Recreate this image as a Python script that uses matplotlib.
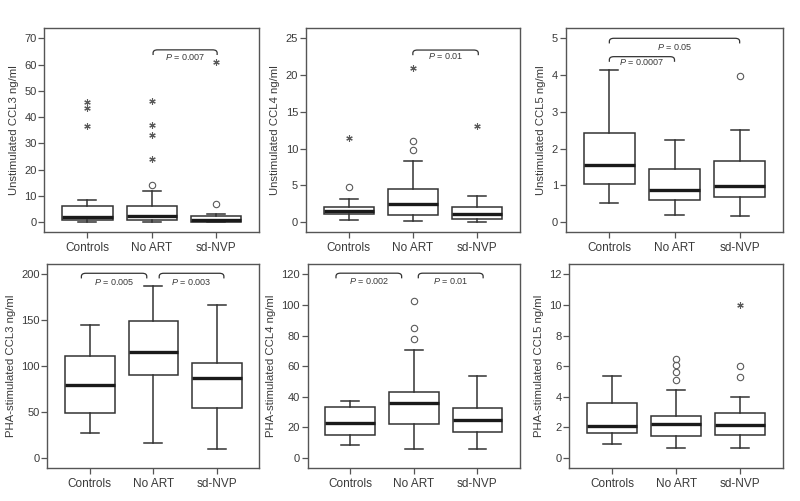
import matplotlib
matplotlib.use('Agg')
import matplotlib.pyplot as plt
import numpy as np
from matplotlib.path import Path
from matplotlib.patches import PathPatch

plt.rcParams['font.family'] = ['Liberation Sans', 'DejaVu Sans']
plt.rcParams['mathtext.fontset'] = 'custom'
plt.rcParams['mathtext.it'] = 'Liberation Sans:italic'
plt.rcParams['mathtext.rm'] = 'Liberation Sans'

groups = ['Controls', 'No ART', 'sd-NVP']

# ---- Panel 1: Unstimulated CCL3 ----
p1_q1 = [0.9, 0.9, 0.1]
p1_med = [1.9, 2.2, 0.8]
p1_q3 = [6.0, 6.1, 2.2]
p1_lo = [0.0, 0.0, 0.0]
p1_hi = [8.2, 12.0, 3.2]
p1_circles = [[], [14.2], [6.7]]
p1_stars = [[45.9, 43.4, 36.6], [46.2, 36.9, 33.0, 24.1], [61.1]]
p1_ticks = [0, 10, 20, 30, 40, 50, 60, 70]
p1_label = 'Unstimulated CCL3 ng/ml'
p1_pvals = ['0.007']

# ---- Panel 2: Unstimulated CCL4 ----
p2_q1 = [1.09, 0.95, 0.41]
p2_med = [1.54, 2.49, 1.13]
p2_q3 = [2.04, 4.48, 2.04]
p2_lo = [0.23, 0.18, 0.05]
p2_hi = [3.17, 8.24, 3.49]
p2_circles = [[4.76], [10.96, 9.74], []]
p2_stars = [[11.4], [20.9], [13.1]]
p2_ticks = [0, 5, 10, 15, 20, 25]
p2_label = 'Unstimulated CCL4 ng/ml'
p2_pvals = ['0.01']

# ---- Panel 3: Unstimulated CCL5 ----
p3_q1 = [1.04, 0.60, 0.69]
p3_med = [1.55, 0.87, 0.99]
p3_q3 = [2.42, 1.44, 1.66]
p3_lo = [0.53, 0.20, 0.15]
p3_hi = [4.14, 2.23, 2.51]
p3_circles = [[], [], [3.97]]
p3_stars = [[], [], []]
p3_ticks = [0, 1, 2, 3, 4, 5]
p3_label = 'Unstimulated CCL5 ng/ml'
p3_pvals = ['0.0007', '0.05']

# ---- Panel 4: PHA-stimulated CCL3 ----
p4_q1 = [49.1, 90.2, 54.2]
p4_med = [79.3, 115.3, 87.3]
p4_q3 = [110.9, 148.7, 103.6]
p4_lo = [27.3, 16.7, 10.2]
p4_hi = [144.4, 187.6, 166.2]
p4_circles = [[], [], []]
p4_stars = [[], [], []]
p4_ticks = [0, 50, 100, 150, 200]
p4_label = 'PHA-stimulated CCL3 ng/ml'
p4_pvals = ['0.005', '0.003']

# ---- Panel 5: PHA-stimulated CCL4 ----
p5_q1 = [15.1, 22.3, 17.0]
p5_med = [22.9, 35.8, 24.9]
p5_q3 = [33.4, 42.8, 32.7]
p5_lo = [8.3, 5.9, 6.1]
p5_hi = [37.3, 70.7, 53.7]
p5_circles = [[], [102.5, 84.9, 77.5], []]
p5_stars = [[], [], []]
p5_ticks = [0, 20, 40, 60, 80, 100, 120]
p5_label = 'PHA-stimulated CCL4 ng/ml'
p5_pvals = ['0.002', '0.01']

# ---- Panel 6: PHA-stimulated CCL5 ----
p6_q1 = [1.61, 1.44, 1.53]
p6_med = [2.09, 2.25, 2.18]
p6_q3 = [3.62, 2.75, 2.95]
p6_lo = [0.94, 0.63, 0.65]
p6_hi = [5.37, 4.43, 3.99]
p6_circles = [[], [6.45, 6.05, 5.6, 5.1], [6.02, 5.28]]
p6_stars = [[], [], [10.0]]
p6_ticks = [0, 2, 4, 6, 8, 10, 12]
p6_label = 'PHA-stimulated CCL5 ng/ml'
p6_pvals = []

panels = [
    (p1_q1, p1_med, p1_q3, p1_lo, p1_hi, p1_circles, p1_stars, p1_ticks, p1_label, p1_pvals),
    (p2_q1, p2_med, p2_q3, p2_lo, p2_hi, p2_circles, p2_stars, p2_ticks, p2_label, p2_pvals),
    (p3_q1, p3_med, p3_q3, p3_lo, p3_hi, p3_circles, p3_stars, p3_ticks, p3_label, p3_pvals),
    (p4_q1, p4_med, p4_q3, p4_lo, p4_hi, p4_circles, p4_stars, p4_ticks, p4_label, p4_pvals),
    (p5_q1, p5_med, p5_q3, p5_lo, p5_hi, p5_circles, p5_stars, p5_ticks, p5_label, p5_pvals),
    (p6_q1, p6_med, p6_q3, p6_lo, p6_hi, p6_circles, p6_stars, p6_ticks, p6_label, p6_pvals),
]

# axes rectangles in pixels (left, right, top, bottom) on an 800x501 canvas
W, H = 800, 501
rects_px = [
    (44.3, 259.3, 28.0, 232.3),
    (305.7, 520.0, 28.0, 232.3),
    (565.7, 783.3, 28.0, 232.3),
    (47.3, 259.3, 264.0, 468.3),
    (307.7, 520.0, 264.0, 468.3),
    (569.3, 783.3, 264.0, 468.3),
]

# bracket layout: (x1, x2, y as fraction of top tick, text y fraction)
brackets = [
    [(2.02, 3.015, 0.937, 0.897)],
    [(2.0, 3.02, 0.936, 0.904)],
    [(1.0, 2.0, 0.900, 0.870), (1.0, 3.0, 1.0, 0.954)],
    [(0.867, 1.897, 1.0055, 0.96), (2.093, 3.112, 1.0055, 0.96)],
    [(0.775, 1.808, 1.006, 0.963), (2.07, 3.09, 1.006, 0.963)],
    [],
]

TXT = '#3a3a3a'
EDGE = '#333333'
SPINE = '#555555'

fig = plt.figure(figsize=(8.0, 5.01), dpi=100)
pos = np.array([1, 2, 3])

def draw_bracket(ax, x1, x2, y, h, r_x, lw=0.9):
    r = h * 0.6
    verts = [(x1, y - h), (x1, y - r), (x1, y), (x1 + r_x, y),
             (x2 - r_x, y), (x2, y), (x2, y - r), (x2, y - h)]
    codes = [Path.MOVETO, Path.LINETO, Path.CURVE3, Path.CURVE3,
             Path.LINETO, Path.CURVE3, Path.CURVE3, Path.LINETO]
    ax.add_patch(PathPatch(Path(verts, codes), fill=False, edgecolor=EDGE, lw=lw,
                           clip_on=False))

for i, (q1, med, q3, lo, hi, circ, stars, ticks, label, pvals) in enumerate(panels):
    l, r, t, b = rects_px[i]
    ax = fig.add_axes([l / W, (H - b) / H, (r - l) / W, (b - t) / H])
    top = ticks[-1]
    stats = []
    for g in range(3):
        stats.append(dict(med=med[g], q1=q1[g], q3=q3[g], whislo=lo[g], whishi=hi[g],
                          fliers=[], label=groups[g]))
    ax.bxp(stats, positions=pos, widths=0.78, capwidths=0.28, showfliers=False,
           patch_artist=True,
           boxprops=dict(facecolor='white', edgecolor=EDGE, linewidth=1.1),
           whiskerprops=dict(color=EDGE, linewidth=1.1),
           capprops=dict(color=EDGE, linewidth=1.1),
           medianprops=dict(color='#1a1a1a', linewidth=2.4))
    for g in range(3):
        if circ[g]:
            ax.plot(np.full(len(circ[g]), pos[g]), circ[g], linestyle='none', marker='o',
                    ms=4.6, mfc='none', mec='#5a5a5a', mew=0.8)
        if stars[g]:
            ax.plot(np.full(len(stars[g]), pos[g]), stars[g], linestyle='none',
                    marker=(6, 2, 0), ms=4.6, mec='#5a5a5a', mew=0.8)
    ax.set_xlim(0.33, 3.67)
    ax.set_ylim(-0.056 * top, 1.056 * top)
    ax.set_yticks(ticks)
    ax.set_xticks(pos)
    ax.set_xticklabels(groups)
    ax.set_ylabel(label, fontsize=8.2, color=TXT, labelpad=4)
    ax.tick_params(axis='y', labelsize=8, colors=TXT, length=4, width=0.9, pad=1.5,
                   color=SPINE)
    ax.tick_params(axis='x', labelsize=8.5, colors=TXT, length=4, width=0.9, pad=3,
                   color=SPINE)
    for s in ax.spines.values():
        s.set_color(SPINE)
        s.set_linewidth(1.0)
    for k, (x1, x2, yf, tyf) in enumerate(brackets[i]):
        y = yf * top
        h = 0.028 * top
        draw_bracket(ax, x1, x2, y, h, 0.07)
        ax.text((x1 + x2) / 2, tyf * top, '$P$ = ' + pvals[k], ha='center', va='center',
                fontsize=6.5, color=TXT)

fig.savefig('out.png', dpi=100)
